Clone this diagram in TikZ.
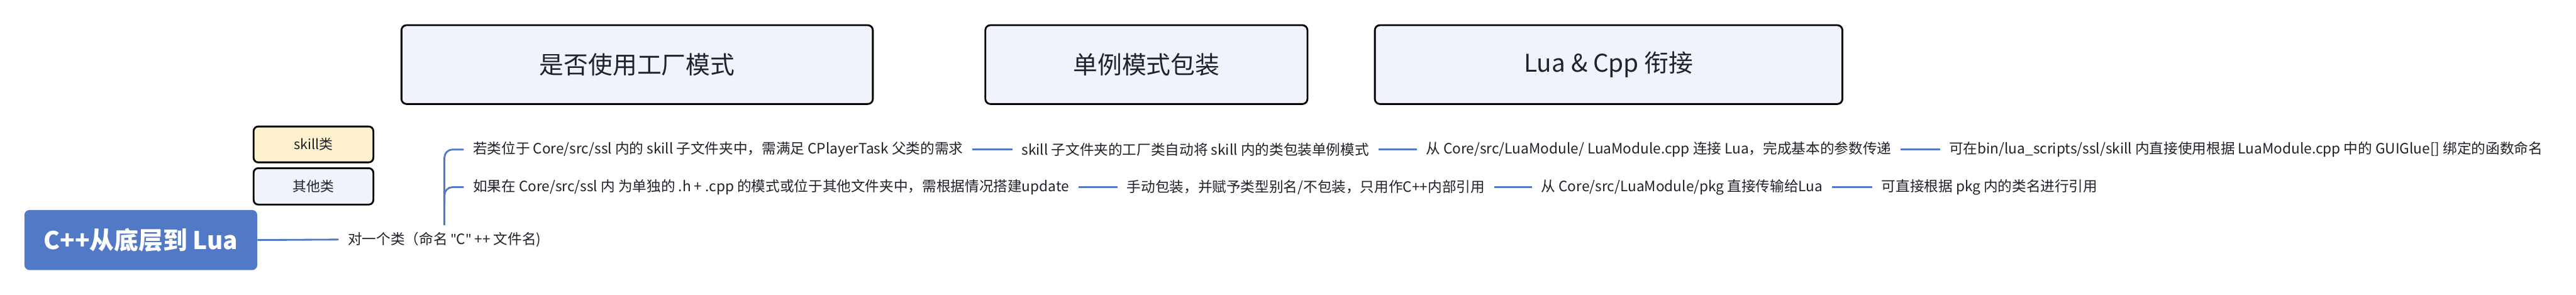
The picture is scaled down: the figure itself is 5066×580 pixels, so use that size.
\documentclass[tikz,border=0pt]{standalone}
\usepackage{fontspec}
\setmainfont{Noto Sans CJK SC}
\newfontfamily\quotefont{Noto Sans}
\usetikzlibrary{positioning}
\definecolor{brblue}{HTML}{5279C6}
\definecolor{lightfill}{HTML}{EEF3FC}
\definecolor{yellowfill}{HTML}{FDF0CD}
\definecolor{ink}{HTML}{1F2329}
\newcommand{\sq}{{\quotefont\char"22}}
\tikzset{
  topbox/.style={draw=black, line width=3.5pt, rounded corners=10pt, fill=lightfill,
    font=\fontsize{48}{56}\selectfont, text=ink, inner sep=0pt, minimum height=155pt},
  tagbox/.style={draw=black, line width=3.5pt, rounded corners=9pt, text=ink,
    font=\fontsize{27}{32}\selectfont, inner sep=0pt, minimum width=235.5pt},
  rootbox/.style={fill=brblue, rounded corners=10pt, text=white,
    font=\fontsize{48}{56}\selectfont\bfseries, inner sep=0pt, minimum width=458pt, minimum height=118pt},
  leaf/.style={font=\fontsize{28}{34}\selectfont, text=ink, inner xsep=18pt, inner ysep=4pt, anchor=west},
  branch/.style={draw=brblue, line width=3.5pt},
}
\begin{document}
\begin{tikzpicture}[x=1pt,y=-1pt]
\useasboundingbox[fill=white] (0,0) rectangle (5066,580);

% top boxes
\node[topbox, minimum width=927pt] (factory) at (1253,127) {是否使用工厂模式};
\node[topbox, minimum width=633.5pt] (singleton) at (2254.5,127) {单例模式包装};
\node[topbox, minimum width=919.5pt] (bridge) at (3163.5,127) {Lua \& Cpp 衔接};

% tag boxes
\node[tagbox, fill=yellowfill, minimum height=70.5pt] (skill) at (616.5,284) {skill类};
\node[tagbox, fill=lightfill, minimum height=71.5pt] (other) at (616.5,366.5) {其他类};

% root
\node[rootbox] (root) at (277,472) {C++从底层到 Lua};
\node[leaf] (cls) at (666,471) {对一个类（命名 \sq C\sq{} ++ 文件名)};
\draw[branch] (root.east) -- (cls.west);

% row 1
\node[leaf] (t11) at (912,294) {若类位于 Core/src/ssl 内的 skill 子文件夹中，需满足 CPlayerTask 父类的需求};
\node[leaf] (t12) at (1991,294) {skill 子文件夹的工厂类自动将 skill 内的类包装单例模式};
\node[leaf] (t13) at (2786,294) {从 Core/src/LuaModule/ LuaModule.cpp 连接 Lua，完成基本的参数传递};
\node[leaf] (t14) at (3815,294) {可在bin/lua\_scripts/ssl/skill 内直接使用根据 LuaModule.cpp 中的 GUIGlue[] 绑定的函数命名};

% row 2
\node[leaf] (t21) at (912,368) {如果在 Core/src/ssl 内 为单独的 .h + .cpp 的模式或位于其他文件夹中，需根据情况搭建update};
\node[leaf] (t22) at (2198,368) {手动包装，并赋予类型别名/不包装，只用作C++内部引用};
\node[leaf] (t23) at (3013,368) {从 Core/src/LuaModule/pkg 直接传输给Lua};
\node[leaf] (t24) at (3682,368) {可直接根据 pkg 内的类名进行引用};

% bracket
\coordinate (brkbot) at (874,443);
\coordinate (brkmid) at (874,400);
\draw[branch, rounded corners=16pt] (brkbot) -- (874,294) -- (t11.west);
\draw[branch, rounded corners=16pt] (brkmid) -- (874,368) -- (t21.west);

% row connectors
\draw[branch] (t11.east) -- (t12.west);
\draw[branch] (t12.east) -- (t13.west);
\draw[branch] (t13.east) -- (t14.west);
\draw[branch] (t21.east) -- (t22.west);
\draw[branch] (t22.east) -- (t23.west);
\draw[branch] (t23.east) -- (t24.west);
\end{tikzpicture}
\end{document}
